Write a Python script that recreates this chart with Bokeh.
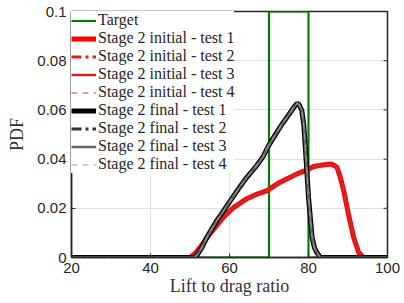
from bokeh.plotting import figure
from bokeh.models import (Range1d, FixedTicker, NumeralTickFormatter,
                          Legend, LegendItem)
from bokeh.embed import file_html
from bokeh.resources import INLINE

# ---- data ----
target_x = [20, 70, 70, 80, 80, 100]
target_pdf = [0, 0, 0.1, 0.1, 0, 0]

init_x = [20, 50, 51.3, 52.5, 54.3, 56.5, 58.5, 61, 64.4, 67, 69.5, 72.8, 75,
          77.1, 79, 81.3, 83.5, 85.9, 87.2, 88, 88.9, 90.1, 91.4, 92.7, 94, 100]
init_pdf = [0, 0, 0.0016, 0.004, 0.008, 0.0125, 0.0164, 0.0203, 0.0239, 0.0258,
            0.0272, 0.0306, 0.0323, 0.034, 0.0352, 0.037, 0.0376, 0.038, 0.0367,
            0.033, 0.0272, 0.0178, 0.0083, 0.002, 0, 0]

final_x = [20, 51, 51.7, 53, 54.3, 56.8, 60.2, 62.3, 64.4, 66.9, 68.5, 69.9, 72.8,
           75.4, 76.5, 77.1, 77.6, 78.3, 78.8, 79.2, 80.0, 80.9, 81.5, 82.1, 83, 100]
final_pdf = [0, 0, 0.0008, 0.004, 0.0083, 0.015, 0.023, 0.028, 0.0326, 0.0374,
             0.041, 0.0455, 0.053, 0.059, 0.0615, 0.0627, 0.0622, 0.0598, 0.054,
             0.0448, 0.0245, 0.0083, 0.004, 0.002, 0, 0]

x_ticks = [20, 40, 60, 80, 100]
y_ticks = [0, 0.02, 0.04, 0.06, 0.08, 0.1]

labels = ["Target",
          "Stage 2 initial - test 1", "Stage 2 initial - test 2",
          "Stage 2 initial - test 3", "Stage 2 initial - test 4",
          "Stage 2 final - test 1", "Stage 2 final - test 2",
          "Stage 2 final - test 3", "Stage 2 final - test 4"]

# ---- figure ----
p = figure(width=404, height=303, output_backend="svg", toolbar_location=None,
           x_range=Range1d(20, 100), y_range=Range1d(0, 0.1),
           min_border_left=71, min_border_right=17, min_border_top=11,
           min_border_bottom=46)
p.background_fill_color = "white"
p.border_fill_color = "white"
p.outline_line_color = "#262626"
p.outline_line_width = 1.5

axcol = "#262626"
for ax in [p.xaxis[0], p.yaxis[0]]:
    ax.axis_line_color = axcol
    ax.axis_line_width = 1.5
    ax.major_tick_line_color = axcol
    ax.major_tick_in = 4
    ax.major_tick_out = 0
    ax.minor_tick_line_color = None
    ax.major_label_text_font = "Liberation Sans"
    ax.major_label_text_font_size = "15px"
    ax.major_label_text_color = axcol
    ax.axis_label_text_font = "Liberation Serif"
    ax.axis_label_text_font_size = "18px"
    ax.axis_label_text_font_style = "normal"
    ax.axis_label_text_color = "#333333"

p.xaxis.ticker = FixedTicker(ticks=x_ticks)
p.yaxis.ticker = FixedTicker(ticks=y_ticks)
p.yaxis.formatter = NumeralTickFormatter(format="0.[00]")
p.xaxis.major_label_standoff = 5
p.yaxis.major_label_standoff = 5
p.xaxis.axis_label = "Lift to drag ratio"
p.yaxis.axis_label = "PDF"
p.xaxis.axis_label_standoff = 0
p.yaxis.axis_label_standoff = 7

p.grid.grid_line_color = "#e0e0e0"
p.grid.grid_line_width = 1

# inward ticks on the top and right edges of the box
tick_len_y = 0.0016
tick_len_x = 1.0
p.segment(x0=x_ticks, y0=[0.1] * len(x_ticks), x1=x_ticks,
          y1=[0.1 - tick_len_y] * len(x_ticks), line_color=axcol, line_width=1)
p.segment(x0=[100] * len(y_ticks), y0=y_ticks, x1=[100 - tick_len_x] * len(y_ticks),
          y1=y_ticks, line_color=axcol, line_width=1)

r_t = p.line(target_x, target_pdf, line_color="#008000", line_width=2.2)
r1 = p.line(init_x, init_pdf, line_color="#ff0000", line_width=5)
r2 = p.line(init_x, init_pdf, line_color="#e81c1c", line_width=3, line_dash="10 4 3 4")
r3 = p.line(init_x, init_pdf, line_color="#d42020", line_width=2.5)
r4 = p.line(init_x, init_pdf, line_color="#e03030", line_width=1, line_dash="6 5")
f1 = p.line(final_x, final_pdf, line_color="#000000", line_width=5)
f2 = p.line(final_x, final_pdf, line_color="#333333", line_width=3, line_dash="10 4 3 4")
f3 = p.line(final_x, final_pdf, line_color="#666666", line_width=2.5)
f4 = p.line(final_x, final_pdf, line_color="#a0a0a0", line_width=1, line_dash="6 5")

renderers = [r_t, r1, r2, r3, r4, f1, f2, f3, f4]
legend = Legend(items=[LegendItem(label=l, renderers=[r]) for l, r in zip(labels, renderers)],
                location="top_left", margin=0, padding=10, spacing=0,
                glyph_width=25, glyph_height=17, label_height=17, label_standoff=2,
                border_line_color=None,
                background_fill_color="white", background_fill_alpha=1.0)
legend.label_text_font = "Liberation Serif"
legend.label_text_font_size = "16px"
legend.label_text_color = axcol
p.add_layout(legend, "center")

open("out.html", "w").write(file_html(p, INLINE))
